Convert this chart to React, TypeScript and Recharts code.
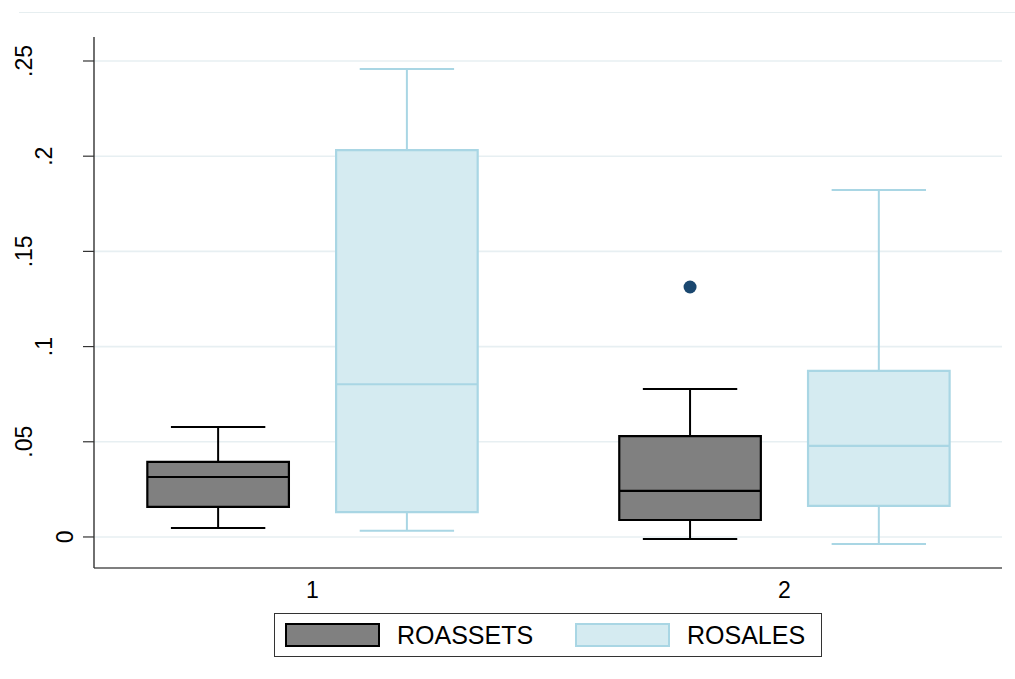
import React from 'react';
import {
  ComposedChart,
  XAxis,
  YAxis,
  CartesianGrid,
  ReferenceArea,
  ReferenceLine,
  Scatter,
} from 'recharts';

// ---- data ----
const categories = [1, 2];
const yTicks = [0, 0.05, 0.1, 0.15, 0.2, 0.25];
const yTickLabels = ['0', '.05', '.1', '.15', '.2', '.25'];

const roassetsMin = [0.0047, -0.0011];
const roassetsQ1 = [0.0158, 0.0089];
const roassetsMedian = [0.0315, 0.0242];
const roassetsQ3 = [0.0394, 0.053];
const roassetsMax = [0.0578, 0.0777];
const roassetsOutlierGroup = [2];
const roassetsOutlierValue = [0.1313];

const rosalesMin = [0.0032, -0.0037];
const rosalesQ1 = [0.0131, 0.0163];
const rosalesMedian = [0.0802, 0.0478];
const rosalesQ3 = [0.2032, 0.0872];
const rosalesMax = [0.2458, 0.1822];

// ---- styling / layout ----
const FONT = '"Liberation Sans", Arial, Helvetica, sans-serif';
const W = 1015;
const H = 679;
const BOX_HALF = 0.15;
const CAP_HALF = 0.1;

const series = [
  {
    name: 'ROASSETS',
    offset: -0.2,
    fill: '#808080',
    stroke: '#000000',
    min: roassetsMin,
    q1: roassetsQ1,
    med: roassetsMedian,
    q3: roassetsQ3,
    max: roassetsMax,
  },
  {
    name: 'ROSALES',
    offset: 0.2,
    fill: '#d5ebf1',
    stroke: '#a9d6e4',
    min: rosalesMin,
    q1: rosalesQ1,
    med: rosalesMedian,
    q3: rosalesQ3,
    max: rosalesMax,
  },
];

const outlierData = roassetsOutlierGroup.map((g, i) => ({
  x: g + series[0].offset,
  y: roassetsOutlierValue[i],
}));

const YTick = (props: any) => {
  const { x, y, payload } = props;
  const idx = yTicks.indexOf(payload.value);
  const label = idx >= 0 ? yTickLabels[idx] : String(payload.value);
  // Stata-like placement of rotated labels
  const axisX = x + 11;
  const center = axisX - 9 - 20.5 * label.length;
  const bx = center + 8;
  return (
    <text
      transform={`translate(${bx},${y}) rotate(-90)`}
      textAnchor="middle"
      fontSize={23}
      fontFamily={FONT}
      fill="#000"
    >
      {label}
    </text>
  );
};

export default function App() {
  const whiskers: React.ReactNode[] = [];
  const boxes: React.ReactNode[] = [];
  const medians: React.ReactNode[] = [];
  series.forEach((s) => {
    categories.forEach((c, i) => {
      const cx = c + s.offset;
      const sw = 2;
      whiskers.push(
        <ReferenceLine
          key={`wu-${s.name}-${i}`}
          segment={[{ x: cx, y: s.q3[i] }, { x: cx, y: s.max[i] }]}
          stroke={s.stroke}
          strokeWidth={sw}
        />,
        <ReferenceLine
          key={`wl-${s.name}-${i}`}
          segment={[{ x: cx, y: s.q1[i] }, { x: cx, y: s.min[i] }]}
          stroke={s.stroke}
          strokeWidth={sw}
        />,
        <ReferenceLine
          key={`cu-${s.name}-${i}`}
          segment={[{ x: cx - CAP_HALF, y: s.max[i] }, { x: cx + CAP_HALF, y: s.max[i] }]}
          stroke={s.stroke}
          strokeWidth={sw}
        />,
        <ReferenceLine
          key={`cl-${s.name}-${i}`}
          segment={[{ x: cx - CAP_HALF, y: s.min[i] }, { x: cx + CAP_HALF, y: s.min[i] }]}
          stroke={s.stroke}
          strokeWidth={sw}
        />
      );
      boxes.push(
        <ReferenceArea
          key={`b-${s.name}-${i}`}
          x1={cx - BOX_HALF}
          x2={cx + BOX_HALF}
          y1={s.q1[i]}
          y2={s.q3[i]}
          fill={s.fill}
          fillOpacity={1}
          stroke={s.stroke}
          strokeWidth={2.2}
        />
      );
      medians.push(
        <ReferenceLine
          key={`m-${s.name}-${i}`}
          segment={[{ x: cx - BOX_HALF, y: s.med[i] }, { x: cx + BOX_HALF, y: s.med[i] }]}
          stroke={s.stroke}
          strokeWidth={2.2}
        />
      );
    });
  });

  return (
    <div
      style={{
        position: 'absolute',
        left: 0,
        top: 0,
        width: W,
        height: H,
        background: '#fff',
        fontFamily: FONT,
      }}
    >
      <div
        style={{
          position: 'absolute',
          left: 19,
          top: 12,
          right: 0,
          height: 1,
          background: '#e6eef0',
        }}
      />
      <ComposedChart
        width={W}
        height={H}
        margin={{ top: 37, right: 13, left: 0, bottom: 71 }}
      >
        <CartesianGrid
          horizontal
          vertical={false}
          stroke="#e7eff2"
          strokeWidth={1.6}
          syncWithTicks
        />
        <XAxis
          type="number"
          dataKey="x"
          domain={[0.537, 2.461]}
          ticks={categories}
          allowDataOverflow
          height={40}
          tickLine={false}
          tickSize={0}
          tickMargin={14}
          axisLine={{ stroke: '#555', strokeWidth: 1.6 }}
          tick={{ fontSize: 23, fill: '#000', fontFamily: FONT }}
        />
        <YAxis
          type="number"
          dataKey="y"
          domain={[-0.0163, 0.2626]}
          ticks={yTicks}
          allowDataOverflow
          width={94}
          tickSize={11}
          tickMargin={0}
          axisLine={{ stroke: '#333', strokeWidth: 1.4 }}
          tickLine={{ stroke: '#333', strokeWidth: 1.2 }}
          tick={<YTick />}
        />
        {whiskers}
        {boxes}
        {medians}
        <Scatter
          data={outlierData}
          fill="#1a476f"
          isAnimationActive={false}
          shape={(p: any) => <circle cx={p.cx} cy={p.cy} r={6.5} fill="#1a476f" />}
        />
      </ComposedChart>
      <div
        style={{
          position: 'absolute',
          left: 274,
          top: 613,
          width: 548,
          height: 44,
          border: '1px solid #333',
          boxSizing: 'border-box',
        }}
      >
        {series.map((s, i) => (
          <div
            key={s.name}
            style={{
              position: 'absolute',
              left: i === 0 ? 10 : 300,
              top: 9,
              display: 'flex',
              alignItems: 'center',
            }}
          >
            <div
              style={{
                width: 95,
                height: 24,
                background: s.fill,
                border: `2px solid ${s.stroke}`,
                boxSizing: 'border-box',
              }}
            />
            <span
              style={{
                marginLeft: 17,
                fontSize: 25,
                lineHeight: '24px',
                color: '#000',
                fontFamily: FONT,
              }}
            >
              {s.name}
            </span>
          </div>
        ))}
      </div>
    </div>
  );
}
